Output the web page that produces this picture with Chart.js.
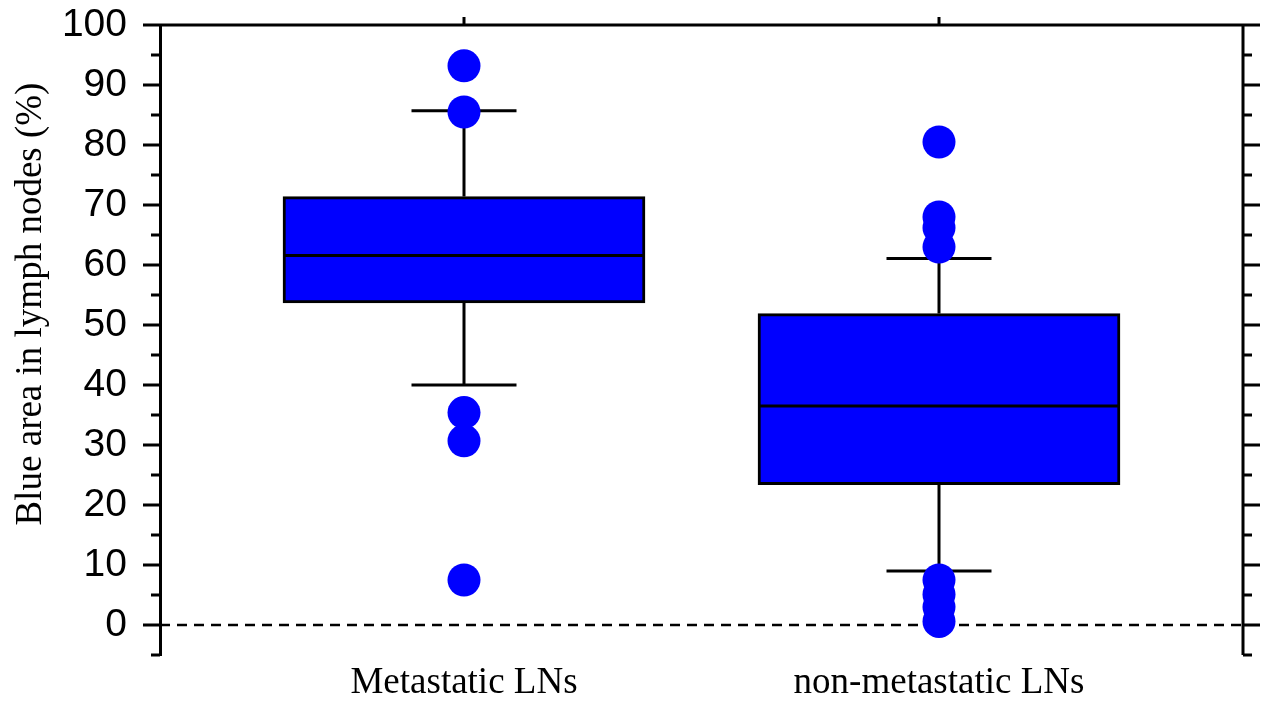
<!DOCTYPE html>
<html>
<head>
<meta charset="utf-8">
<script src="https://cdn.jsdelivr.net/npm/chart.js@4/dist/chart.umd.min.js"></script>
<style>
  html, body { margin: 0; padding: 0; background: #fff; }
  #wrap { width: 1263px; height: 702px; }
</style>
</head>
<body>
<div id="wrap"><canvas id="grafico"></canvas></div>
<script>
// dados
const categorias = ['Metastatic LNs', 'non-metastatic LNs'];
const posicoes = [1, 2];
const q1 = [53.7, 23.4];
const mediana = [61.6, 36.5];
const q3 = [71.4, 51.9];
const bigodeInferior = [40.0, 9.0];
const bigodeSuperior = [85.7, 61.1];
const outliersMetastatic = [93.2, 85.5, 35.4, 30.7, 7.5];
const outliersNonMetastatic = [80.5, 68.0, 66.2, 63.0, 7.5, 5.1, 3.0, 0.6];
const yTicks = [-5, 0, 5, 10, 15, 20, 25, 30, 35, 40, 45, 50, 55, 60, 65, 70, 75, 80, 85, 90, 95, 100];
const tituloY = 'Blue area in lymph nodes (%)';

const azul = '#0000ff';
const larguraCaixa = 362;
const larguraCap = 105;

const pontosOutliers = [
  ...outliersMetastatic.map(v => ({ x: posicoes[0], y: v })),
  ...outliersNonMetastatic.map(v => ({ x: posicoes[1], y: v })),
];

// desenha linha zero, bigodes, mediana, ticks dos eixos e título do eixo y
const pluginBoxplot = {
  id: 'boxplot',
  beforeDatasetsDraw(chart) {
    const { ctx, chartArea, scales: { x, y } } = chart;
    ctx.save();
    ctx.strokeStyle = '#000';
    // linha tracejada no zero
    ctx.lineWidth = 2.5;
    ctx.setLineDash([10, 7]);
    ctx.beginPath();
    ctx.moveTo(chartArea.left, y.getPixelForValue(0));
    ctx.lineTo(chartArea.right, y.getPixelForValue(0));
    ctx.stroke();
    ctx.setLineDash([]);
    // bigodes
    ctx.lineWidth = 3;
    posicoes.forEach((p, i) => {
      const px = x.getPixelForValue(p);
      ctx.beginPath();
      ctx.moveTo(px, y.getPixelForValue(q3[i]));
      ctx.lineTo(px, y.getPixelForValue(bigodeSuperior[i]));
      ctx.moveTo(px, y.getPixelForValue(q1[i]));
      ctx.lineTo(px, y.getPixelForValue(bigodeInferior[i]));
      ctx.moveTo(px - larguraCap / 2, y.getPixelForValue(bigodeSuperior[i]));
      ctx.lineTo(px + larguraCap / 2, y.getPixelForValue(bigodeSuperior[i]));
      ctx.moveTo(px - larguraCap / 2, y.getPixelForValue(bigodeInferior[i]));
      ctx.lineTo(px + larguraCap / 2, y.getPixelForValue(bigodeInferior[i]));
      ctx.stroke();
    });
    ctx.restore();
  },
  afterDatasetsDraw(chart) {
    const { ctx, chartArea, scales: { x, y } } = chart;
    ctx.save();
    ctx.strokeStyle = '#000';
    ctx.lineWidth = 3;
    // mediana
    posicoes.forEach((p, i) => {
      const px = x.getPixelForValue(p);
      const py = y.getPixelForValue(mediana[i]);
      ctx.beginPath();
      ctx.moveTo(px - larguraCaixa / 2, py);
      ctx.lineTo(px + larguraCaixa / 2, py);
      ctx.stroke();
    });
    // borda superior e eixo direito
    ctx.beginPath();
    ctx.moveTo(chartArea.left, chartArea.top);
    ctx.lineTo(chartArea.right, chartArea.top);
    ctx.moveTo(chartArea.right, chartArea.top);
    ctx.lineTo(chartArea.right, chartArea.bottom);
    ctx.stroke();
    // ticks dos eixos y (esquerda e direita)
    yTicks.forEach(v => {
      const py = y.getPixelForValue(v);
      const len = v % 10 === 0 ? 17 : 9;
      ctx.beginPath();
      ctx.moveTo(chartArea.left - len, py);
      ctx.lineTo(chartArea.left, py);
      ctx.moveTo(chartArea.right, py);
      ctx.lineTo(chartArea.right + len, py);
      ctx.stroke();
    });
    // ticks no topo
    posicoes.forEach(p => {
      const px = x.getPixelForValue(p);
      ctx.beginPath();
      ctx.moveTo(px, chartArea.top - 8);
      ctx.lineTo(px, chartArea.top);
      ctx.stroke();
    });
    // título do eixo y
    ctx.translate(31, y.getPixelForValue(53.5));
    ctx.rotate(-Math.PI / 2);
    ctx.fillStyle = '#000';
    ctx.font = '37px "Liberation Serif", "Times New Roman", serif';
    ctx.textAlign = 'center';
    ctx.textBaseline = 'middle';
    ctx.fillText(tituloY, 0, 0);
    ctx.restore();
  }
};

new Chart(document.getElementById('grafico'), {
  type: 'bar',
  data: {
    datasets: [
      {
        label: 'Caixa',
        data: posicoes.map((p, i) => ({ x: p, y: [q1[i], q3[i]] })),
        backgroundColor: azul,
        borderColor: '#000',
        borderWidth: 3,
        borderSkipped: false,
        barThickness: larguraCaixa,
        order: 2,
      },
      {
        type: 'scatter',
        label: 'Outliers',
        data: pontosOutliers,
        backgroundColor: azul,
        borderWidth: 0,
        pointRadius: 16.5,
        pointHoverRadius: 16.5,
        order: 1,
      },
    ],
  },
  options: {
    responsive: true,
    maintainAspectRatio: false,
    animation: false,
    events: [],
    layout: { padding: { top: 25, right: 20, left: 0, bottom: 0 } },
    plugins: {
      legend: { display: false },
      tooltip: { enabled: false },
    },
    scales: {
      x: {
        type: 'linear',
        offset: false,
        min: 0.36,
        max: 2.64,
        grid: { display: false },
        border: { display: false },
        afterBuildTicks: scale => { scale.ticks = posicoes.map(p => ({ value: p })); },
        afterFit: scale => {
          scale.height = 47;
          scale.paddingLeft = 0;
          scale.paddingRight = 0;
        },
        ticks: {
          callback: v => categorias[posicoes.indexOf(v)],
          color: '#000',
          font: { family: '"Liberation Serif", "Times New Roman", serif', size: 37 },
          padding: -2,
          maxRotation: 0,
          autoSkip: false,
        },
      },
      y: {
        min: -5,
        max: 100,
        grid: { display: false, drawTicks: false },
        border: { display: true, color: '#000', width: 3 },
        afterFit: scale => {
          scale.width = 160;
          scale.paddingTop = 0;
          scale.paddingBottom = 0;
        },
        ticks: {
          stepSize: 5,
          autoSkip: false,
          callback: v => (v % 10 === 0 && v >= 0 ? v : ''),
          color: '#000',
          font: { family: '"Liberation Sans", Arial, sans-serif', size: 39 },
          padding: 33,
        },
      },
    },
  },
  plugins: [pluginBoxplot],
});
</script>
</body>
</html>
